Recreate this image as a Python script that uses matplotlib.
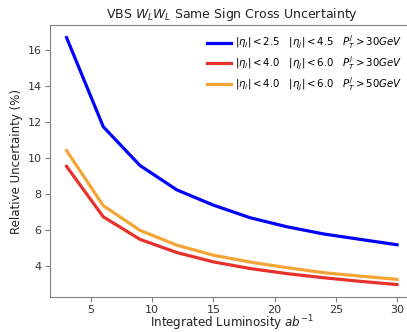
import numpy as np
import matplotlib.pyplot as plt

lumi = [3, 6, 9, 12, 15, 18, 21, 24, 27, 30]
blue_vals = [16.7, 11.75, 9.6, 8.25, 7.4, 6.7, 6.2, 5.8, 5.5, 5.2]
red_vals = [9.55, 6.75, 5.5, 4.77, 4.25, 3.88, 3.6, 3.37, 3.17, 2.99]
orange_vals = [10.43, 7.37, 6.0, 5.18, 4.62, 4.24, 3.93, 3.65, 3.46, 3.28]

labels = [r'$|\eta_l|<2.5\quad|\eta_j|<4.5\quad P_T^j>30GeV$',
          r'$|\eta_l|<4.0\quad|\eta_j|<6.0\quad P_T^j>30GeV$',
          r'$|\eta_l|<4.0\quad|\eta_j|<6.0\quad P_T^j>50GeV$']

fig = plt.figure(figsize=(4.07, 3.32), dpi=100)
ax = fig.add_axes([0.123, 0.1054, 0.893, 0.8193])

ax.plot(lumi, blue_vals, color='#0000ff', lw=2.3, label=labels[0])
ax.plot(lumi, red_vals, color='#e8312a', lw=2.3, label=labels[1])
ax.plot(lumi, orange_vals, color='#f4a535', lw=2.3, label=labels[2])

ax.set_xlim(1.65, 31.35)
ax.set_ylim(2.3, 17.4)
ax.set_xticks([5, 10, 15, 20, 25, 30])
ax.set_yticks([4, 6, 8, 10, 12, 14, 16])

for s in ax.spines.values():
    s.set_color('#808080')
ax.tick_params(colors='#808080', labelcolor='#333333', labelsize=8, pad=2.5)
ax.tick_params(axis='x', pad=2)

ax.set_title(r'VBS $W_LW_L$ Same Sign Cross Uncertainty', fontsize=9, color='#222222', pad=5)
ax.set_xlabel(r'Integrated Luminosity $ab^{-1}$', fontsize=8.6, color='#222222', labelpad=-0.6)
ax.set_ylabel('Relative Uncertainty (%)', fontsize=8.5, color='#222222', labelpad=3)

ax.legend(frameon=False, loc='upper right', bbox_to_anchor=(0.99, 0.995), fontsize=7.3,
          handlelength=2.4, handletextpad=0.4, labelspacing=0.3, borderaxespad=0.3)

fig.savefig('out.png', dpi=100)
